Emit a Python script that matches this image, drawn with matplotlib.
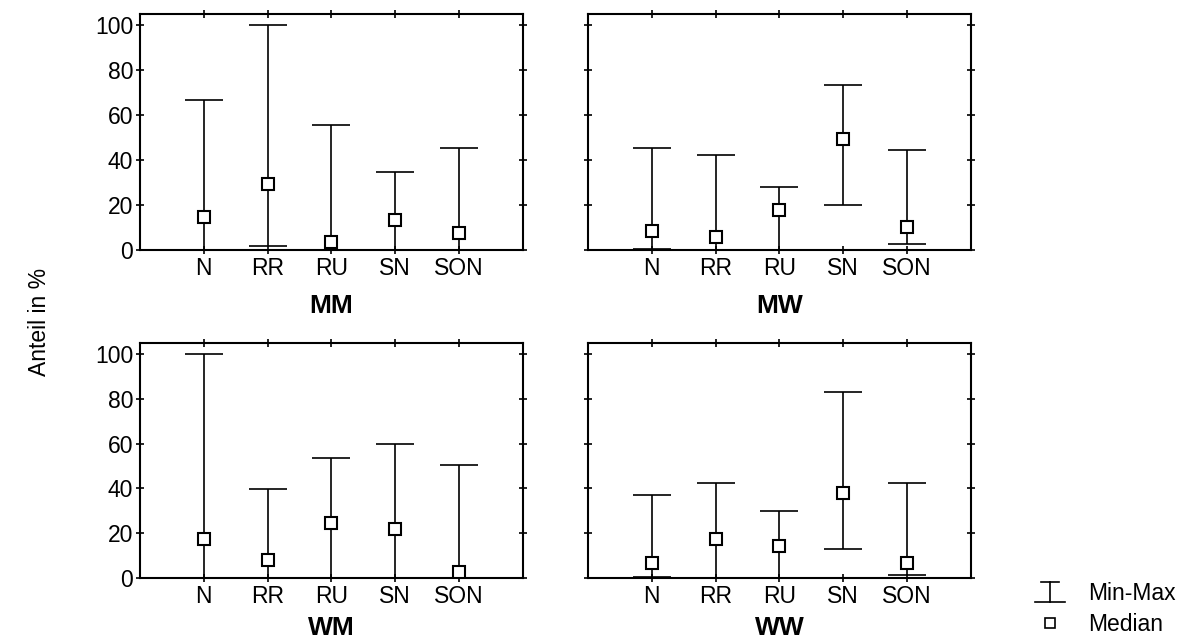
import numpy as np
import matplotlib.pyplot as plt
from matplotlib.lines import Line2D
from matplotlib.legend_handler import HandlerBase

plt.rcParams['font.family'] = ['Liberation Sans', 'DejaVu Sans']

kategorien = ['N', 'RR', 'RU', 'SN', 'SON']
gruppen = ['MM', 'MW', 'WM', 'WW']

# min, median, max je Gruppe
mm_min = [0, 1.8, 0, 0, 0]
mm_med = [14.5, 29.5, 3.4, 13.5, 7.7]
mm_max = [66.7, 100, 55.4, 34.8, 45.5]

mw_min = [0.6, 0, 0, 19.9, 2.8]
mw_med = [8.6, 5.9, 17.8, 49.6, 10.2]
mw_max = [45.3, 42.2, 27.9, 73.3, 44.6]

wm_min = [0, 0, 0, 0, 0]
wm_med = [17.5, 8.2, 24.5, 21.8, 2.5]
wm_max = [100, 39.8, 53.6, 59.9, 50.7]

ww_min = [0.4, 0, 0, 12.8, 1.3]
ww_med = [6.7, 17.5, 14.1, 37.9, 6.7]
ww_max = [37.3, 42.5, 30.0, 83.1, 42.5]

daten = {
    'MM': (mm_min, mm_med, mm_max),
    'MW': (mw_min, mw_med, mw_max),
    'WM': (wm_min, wm_med, wm_max),
    'WW': (ww_min, ww_med, ww_max),
}

fs = 16.5

fig = plt.figure(figsize=(12, 6.43), dpi=100)
pos = {
    'MM': [0.1167, 0.6112, 0.319, 0.367],
    'MW': [0.49, 0.6112, 0.319, 0.367],
    'WM': [0.1167, 0.1011, 0.319, 0.3655],
    'WW': [0.49, 0.1011, 0.319, 0.3655],
}


class MinMaxHandler(HandlerBase):
    # "I" mit kurzem oberen und langem unteren Strich
    def create_artists(self, legend, orig_handle, xd, yd, width, height, fontsize, trans):
        x0 = -xd
        cx = x0 + width / 2
        y0 = -yd - height * 0.125
        y1 = -yd + height * 1.125
        lw = 1.2
        a = Line2D([cx, cx], [y0, y1], color='black', lw=lw, transform=trans)
        b = Line2D([x0 + width * 0.2, x0 + width * 0.8], [y1, y1], color='black', lw=lw, transform=trans)
        c = Line2D([x0, x0 + width], [y0, y0], color='black', lw=lw, transform=trans)
        return [a, b, c]


x = np.arange(1, len(kategorien) + 1)
for g in gruppen:
    ax = fig.add_axes(pos[g])
    lo, med, hi = [np.array(v) for v in daten[g]]
    ax.errorbar(x, med, yerr=[med - lo, hi - med], fmt='none', ecolor='black',
                elinewidth=1.2, capsize=14, capthick=1.2, zorder=2)
    ax.plot(x, med, 's', ms=8.5, mfc='white', mec='black', mew=1.5, zorder=3)
    ax.set_xlim(0, 6)
    ax.set_ylim(0, 105)
    ax.set_xticks(x)
    ax.set_xticklabels(kategorien, fontsize=fs)
    ax.set_yticks([0, 20, 40, 60, 80, 100])
    ax.tick_params(direction='inout', length=6, width=1.2, top=True, right=True,
                   labelsize=fs, pad=2)
    if g in ('MW', 'WW'):
        ax.set_yticklabels([])
    pad = 10 if g in ('MM', 'MW') else 6
    ax.set_xlabel(g, fontsize=19, fontweight='bold', labelpad=pad)
    for s in ax.spines.values():
        s.set_linewidth(1.5)

fig.text(0.033, 0.5, 'Anteil in %', rotation=90, fontsize=fs, va='center', ha='center')

handles = [object(),
           Line2D([], [], ls='none', marker='s', ms=7, mfc='white', mec='black', mew=1.2)]
fig.legend(handles, ['Min-Max', 'Median'], loc='lower left', bbox_to_anchor=(0.855, -0.003),
           borderaxespad=0, frameon=False, fontsize=fs, handlelength=1.31, handletextpad=1.0,
           labelspacing=0.35, handler_map={object: MinMaxHandler()})

fig.savefig('out.png', dpi=100)
